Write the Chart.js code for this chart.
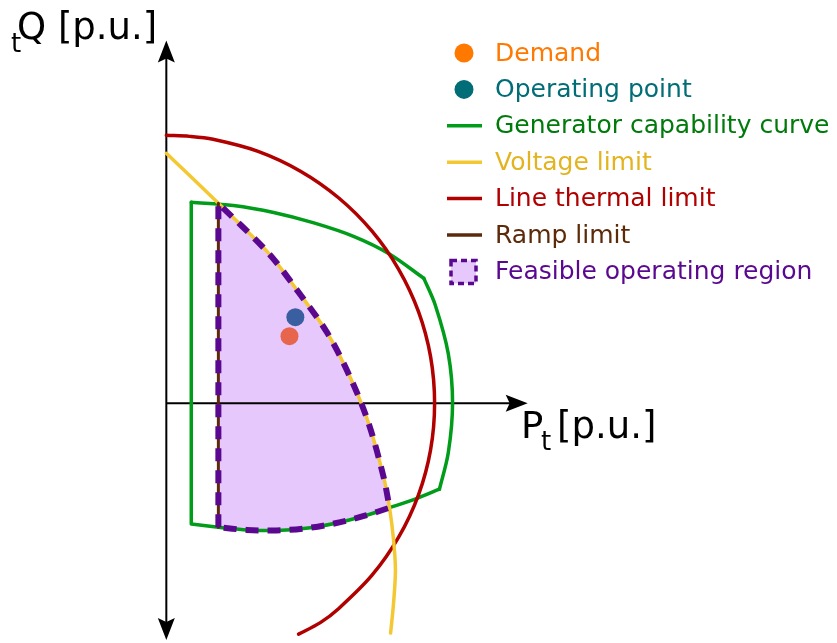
<!DOCTYPE html>
<html>
<head>
<meta charset="utf-8">
<title>Feasible operating region</title>
<script src="https://cdn.jsdelivr.net/npm/chart.js@4.4.1/dist/chart.umd.min.js"></script>
<style>
  html, body { margin: 0; padding: 0; background: #fff; }
  canvas { display: block; }
</style>
</head>
<body>
<canvas id="chart" width="837" height="643"></canvas>
<script>
// P-Q plane, everything in p.u. as [P, Q] pairs
const demand = [[0.459, 0.25]];
const operatingPoint = [[0.481, 0.321]];

// line thermal limit (|S| = 1)
const thermalLimit = [
  [0.000, 1.000], [0.087, 0.996], [0.174, 0.985], [0.342, 0.940], [0.500, 0.866], [0.643, 0.766],
  [0.766, 0.643], [0.866, 0.500], [0.940, 0.342], [0.985, 0.174], [1.000, 0.000],
  [0.985, -0.174], [0.940, -0.342], [0.866, -0.500], [0.766, -0.643], [0.643, -0.766],
  [0.574, -0.819], [0.493, -0.862]
];

// voltage limit
const voltageLimit = [
  [0.000, 0.933], [0.194, 0.746], [0.381, 0.560], [0.493, 0.414], [0.601, 0.261],
  [0.687, 0.093], [0.754, -0.075], [0.810, -0.276], [0.832, -0.390], [0.847, -0.510],
  [0.854, -0.623], [0.847, -0.746], [0.836, -0.858]
];

// generator capability curve, piece by piece
const capabilityStraight = [[0.194, -0.463], [0.093, -0.451], [0.093, 0.750]];
const capabilityField = [
  [0.093, 0.750], [0.250, 0.738], [0.400, 0.712], [0.550, 0.673], [0.700, 0.622],
  [0.830, 0.558], [0.960, 0.466]
];
const capabilityArmature = [
  [0.960, 0.466], [1.003, 0.365], [1.051, 0.185], [1.067, 0.000], [1.051, -0.185], [1.018, -0.321]
];
const capabilityUnder = [
  [1.018, -0.321], [0.930, -0.357], [0.832, -0.390], [0.740, -0.420], [0.630, -0.448],
  [0.520, -0.467], [0.410, -0.475], [0.300, -0.473], [0.194, -0.463]
];

// ramp limit
const rampLimit = [[0.194, -0.463], [0.194, 0.746]];

// feasible region: ramp edge, voltage limit down to the capability curve, back along it
// (corner points repeated so the curve keeps its corners)
const feasibleRegion = [rampLimit[0], rampLimit[1], ...voltageLimit.slice(1, 9), ...capabilityUnder.slice(2)];

const legendLabels = [
  "Demand", "Operating point", "Generator capability curve", "Voltage limit",
  "Line thermal limit", "Ramp limit", "Feasible operating region"
];

const axisExtent = { pMax: 1.347, qMax: 1.354, qMin: -0.884 };

const FONT = '"DejaVu Sans", Verdana, sans-serif';
const GREEN = "#009c1a", YELLOW = "#f4c832", RED = "#b00000", BROWN = "#5c2a08", PURPLE = "#5a0890";
const legendStyle = [
  { marker: "dot", color: "#ff7800", text: "#ff7800" },
  { marker: "dot", color: "#006d77", text: "#006d77" },
  { marker: "line", color: GREEN, text: "#007a0a" },
  { marker: "line", color: YELLOW, text: "#e2b520" },
  { marker: "line", color: RED, text: RED },
  { marker: "line", color: BROWN, text: BROWN },
  { marker: "box", color: PURPLE, text: PURPLE }
];

const pts = arr => arr.map(([p, q]) => ({ x: p, y: q }));

function curve(data, color, extra) {
  return Object.assign({
    data: pts(data),
    showLine: true,
    borderColor: color,
    borderWidth: 3.5,
    pointRadius: 0,
    tension: 0.33,
    fill: false,
    borderCapStyle: "round",
    borderJoinStyle: "round"
  }, extra || {});
}

function arrow(ctx, tx, ty, dx, dy) {
  const len = 22, half = 8.5, notch = 4;
  const bx = tx - dx * len, by = ty - dy * len;
  const nx = -dy, ny = dx;
  ctx.beginPath();
  ctx.moveTo(tx, ty);
  ctx.lineTo(bx + nx * half, by + ny * half);
  ctx.lineTo(tx - dx * (len - notch), ty - dy * (len - notch));
  ctx.lineTo(bx - nx * half, by - ny * half);
  ctx.closePath();
  ctx.fill();
}

const axesAndLegend = {
  id: "axesAndLegend",
  beforeDatasetsDraw(chart) {
    const { ctx, scales: { x, y } } = chart;
    const x0 = x.getPixelForValue(0), y0 = y.getPixelForValue(0);
    const top = y.getPixelForValue(axisExtent.qMax);
    const bottom = y.getPixelForValue(axisExtent.qMin);
    const right = x.getPixelForValue(axisExtent.pMax);
    ctx.save();
    ctx.strokeStyle = "#000";
    ctx.fillStyle = "#000";
    ctx.lineWidth = 2;
    ctx.beginPath();
    ctx.moveTo(x0, top + 12);
    ctx.lineTo(x0, bottom - 12);
    ctx.moveTo(x0, y0);
    ctx.lineTo(right - 12, y0);
    ctx.stroke();
    arrow(ctx, x0, top, 0, -1);
    arrow(ctx, x0, bottom, 0, 1);
    arrow(ctx, right, y0, 1, 0);
    ctx.restore();
  },
  afterDraw(chart) {
    const ctx = chart.ctx;
    ctx.save();
    ctx.fillStyle = "#000";
    ctx.textBaseline = "alphabetic";
    ctx.textAlign = "left";
    // axis titles
    ctx.font = "26px " + FONT;
    ctx.fillText("t", 11, 52);
    ctx.font = "37px " + FONT;
    ctx.fillText("Q [p.u.]", 17, 39);
    ctx.fillText("P", 521, 438);
    ctx.font = "26px " + FONT;
    ctx.fillText("t", 541, 450);
    ctx.font = "37px " + FONT;
    ctx.fillText("[p.u.]", 557, 438);

    // legend
    ctx.font = "25px " + FONT;
    ctx.textBaseline = "middle";
    legendLabels.forEach((label, i) => {
      const st = legendStyle[i];
      const cy = 53 + i * 36.4;
      if (st.marker === "dot") {
        ctx.fillStyle = st.color;
        ctx.beginPath();
        ctx.arc(464, cy, 9.5, 0, Math.PI * 2);
        ctx.fill();
      } else if (st.marker === "line") {
        ctx.strokeStyle = st.color;
        ctx.lineWidth = 3.5;
        ctx.beginPath();
        ctx.moveTo(447, cy);
        ctx.lineTo(482, cy);
        ctx.stroke();
      } else {
        ctx.fillStyle = "#e6c8fc";
        ctx.fillRect(451, cy - 11, 25, 23);
        ctx.strokeStyle = st.color;
        ctx.lineWidth = 3.5;
        ctx.setLineDash([6, 4]);
        ctx.strokeRect(451, cy - 11, 25, 23);
        ctx.setLineDash([]);
      }
      ctx.fillStyle = st.text;
      ctx.fillText(label, 495, cy + 1);
    });
    ctx.restore();
  }
};

new Chart(document.getElementById("chart"), {
  type: "scatter",
  data: {
    datasets: [
      { label: legendLabels[1], data: pts(operatingPoint), pointRadius: 9, pointBackgroundColor: "#3a5fa0", pointBorderWidth: 0 },
      { label: legendLabels[0], data: pts(demand), pointRadius: 9, pointBackgroundColor: "#e8654d", pointBorderWidth: 0 },
      curve(feasibleRegion, PURPLE, {
        label: legendLabels[6], borderWidth: 6, borderDash: [13, 9], borderCapStyle: "butt",
        borderJoinStyle: "miter", fill: "shape", backgroundColor: "#e6c8fc"
      }),
      curve(rampLimit, BROWN, { label: legendLabels[5], borderWidth: 3, tension: 0 }),
      curve(voltageLimit, YELLOW, { label: legendLabels[3] }),
      curve(thermalLimit, RED, { label: legendLabels[4] }),
      curve(capabilityStraight, GREEN, { label: legendLabels[2], tension: 0 }),
      curve(capabilityField, GREEN, { label: legendLabels[2] }),
      curve(capabilityArmature, GREEN, { label: legendLabels[2] }),
      curve(capabilityUnder, GREEN, { label: legendLabels[2] })
    ]
  },
  options: {
    responsive: false,
    animation: false,
    events: [],
    layout: { padding: 0, autoPadding: false },
    scales: {
      x: { type: "linear", display: false, min: -0.62, max: 2.5 },
      y: { type: "linear", display: false, min: -0.895, max: 1.505 }
    },
    plugins: {
      legend: { display: false },
      tooltip: { enabled: false },
      filler: { drawTime: "beforeDatasetsDraw" }
    }
  },
  plugins: [axesAndLegend]
});
</script>
</body>
</html>
